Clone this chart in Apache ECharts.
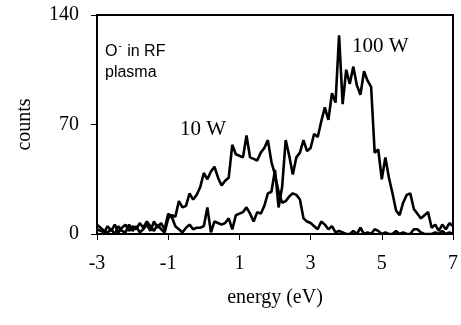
<!DOCTYPE html>
<html>
<head>
<meta charset="utf-8">
<script src="https://cdn.jsdelivr.net/npm/echarts@6/dist/echarts.min.js"></script>
<style>
  html, body { margin: 0; padding: 0; background: #fff; }
  #chart { width: 461px; height: 325px; }
</style>
</head>
<body>
<div id="chart"></div>
<script>
// Energy grid (eV), 0.1 eV steps from -3 to 7
const energy = [
  -3.0, -2.9, -2.8, -2.7, -2.6, -2.5, -2.4, -2.3, -2.2, -2.1,
  -2.0, -1.9, -1.8, -1.7, -1.6, -1.5, -1.4, -1.3, -1.2, -1.1,
  -1.0, -0.9, -0.8, -0.7, -0.6, -0.5, -0.4, -0.3, -0.2, -0.1,
   0.0,  0.1,  0.2,  0.3,  0.4,  0.5,  0.6,  0.7,  0.8,  0.9,
   1.0,  1.1,  1.2,  1.3,  1.4,  1.5,  1.6,  1.7,  1.8,  1.9,
   2.0,  2.1,  2.2,  2.3,  2.4,  2.5,  2.6,  2.7,  2.8,  2.9,
   3.0,  3.1,  3.2,  3.3,  3.4,  3.5,  3.6,  3.7,  3.8,  3.9,
   4.0,  4.1,  4.2,  4.3,  4.4,  4.5,  4.6,  4.7,  4.8,  4.9,
   5.0,  5.1,  5.2,  5.3,  5.4,  5.5,  5.6,  5.7,  5.8,  5.9,
   6.0,  6.1,  6.2,  6.3,  6.4,  6.5,  6.6,  6.7,  6.8,  6.9,
   7.0
];

// O- counts at 10 W RF power
const counts10W = [
   3,  2,  1,  5,  2,  6,  1,  4,  6,  2,
   5,  3,  7,  4,  8,  5,  2,  6,  3,  1,
  10, 12, 11, 21, 17, 18, 26, 22, 25, 30,
  39, 35, 40, 43, 36, 31, 34, 36, 57, 51,
  50, 49, 63, 49, 48, 47, 52, 55, 60, 46,
  38, 27, 20, 21, 24, 26, 25, 22, 10,  8,
   7,  5,  3,  8,  6,  3,  5,  1,  2,  1,
   0,  0,  2,  0,  4,  0,  1,  0,  3,  2,
   0,  1,  0,  0,  2,  0,  1,  0,  0,  3,
   3,  1,  0,  0,  0,  1,  0,  2,  0,  1,
   0
];

// O- counts at 100 W RF power
const counts100W = [
   6,  4,  2,  1,  3,  0,  5,  2,  1,  6,
   2,  5,  1,  3,  6,  2,  8,  4,  7,  3,
  13, 11,  5,  3,  1,  4,  6,  3,  4,  4,
   5, 17,  1,  8,  7,  6,  7, 10,  3, 12,
  13, 14, 17, 13,  8, 14, 13, 18, 26, 27,
  41, 17, 30, 60, 50, 38, 49, 52, 60, 53,
  55, 64, 62, 72, 81, 73, 90, 84, 127, 83,
 105, 96, 107, 95, 89, 104, 98, 94, 52, 54,
  35, 49, 36, 26, 15, 12, 20, 25, 26, 16,
  13, 10, 12, 14,  4,  6,  2,  6,  3,  7,
   5
];

const xTicks = { min: -3, max: 7, step: 2 };
const yTicks = { min: 0, max: 140, step: 70 };

const pair = (xs, ys) => xs.map((x, i) => [x, ys[i]]);

const serif = '"Liberation Serif", "Times New Roman", serif';
const sans = '"Liberation Sans", Arial, sans-serif';

const chart = echarts.init(document.getElementById('chart'), null, { renderer: 'canvas' });

chart.setOption({
  animation: false,
  backgroundColor: '#fff',
  grid: {
    left: 97, right: 6, top: 15, bottom: 91,
    show: true, borderColor: '#000', borderWidth: 2,
    backgroundColor: 'transparent'
  },
  xAxis: {
    type: 'value',
    min: xTicks.min, max: xTicks.max, interval: xTicks.step,
    name: 'energy (eV)',
    nameLocation: 'middle',
    nameGap: 54,
    nameTextStyle: { fontFamily: serif, fontSize: 20, color: '#000' },
    axisLine: { onZero: false, lineStyle: { color: '#000', width: 2 } },
    axisTick: { show: true, inside: false, length: 6, lineStyle: { color: '#000', width: 1 } },
    axisLabel: { margin: 20, fontFamily: serif, fontSize: 20, color: '#000' },
    splitLine: { show: false }
  },
  yAxis: {
    type: 'value',
    min: yTicks.min, max: yTicks.max, interval: yTicks.step,
    name: 'counts',
    nameLocation: 'middle',
    nameGap: 62,
    nameRotate: 90,
    nameTextStyle: { fontFamily: serif, fontSize: 20, color: '#000' },
    axisLine: { show: true, onZero: false, lineStyle: { color: '#000', width: 2 } },
    axisTick: { show: true, inside: false, length: 6, lineStyle: { color: '#000', width: 1 } },
    axisLabel: { margin: 18, fontFamily: serif, fontSize: 20, color: '#000' },
    splitLine: { show: false }
  },
  series: [
    {
      name: '10 W',
      type: 'line',
      data: pair(energy, counts10W),
      showSymbol: false,
      lineStyle: { color: '#000', width: 2.6 },
      z: 3
    },
    {
      name: '100 W',
      type: 'line',
      data: pair(energy, counts100W),
      showSymbol: false,
      lineStyle: { color: '#000', width: 2.6 },
      z: 3
    }
  ],
  graphic: [
    {
      type: 'text', left: 105, top: 41,
      style: {
        text: '{a|O}{s|-}{a| in RF}\n{a|plasma}',
        rich: {
          a: { fontFamily: sans, fontSize: 16, color: '#000', lineHeight: 21 },
          s: { fontFamily: sans, fontSize: 10, color: '#000', verticalAlign: 'top', lineHeight: 21, padding: [0, 1, 8, 1] }
        }
      }
    },
    {
      type: 'text', left: 180, top: 119,
      style: { text: '10 W', fontFamily: serif, fontSize: 21, fill: '#000' }
    },
    {
      type: 'text', left: 352, top: 36,
      style: { text: '100 W', fontFamily: serif, fontSize: 21, fill: '#000' }
    }
  ]
});
</script>
</body>
</html>
